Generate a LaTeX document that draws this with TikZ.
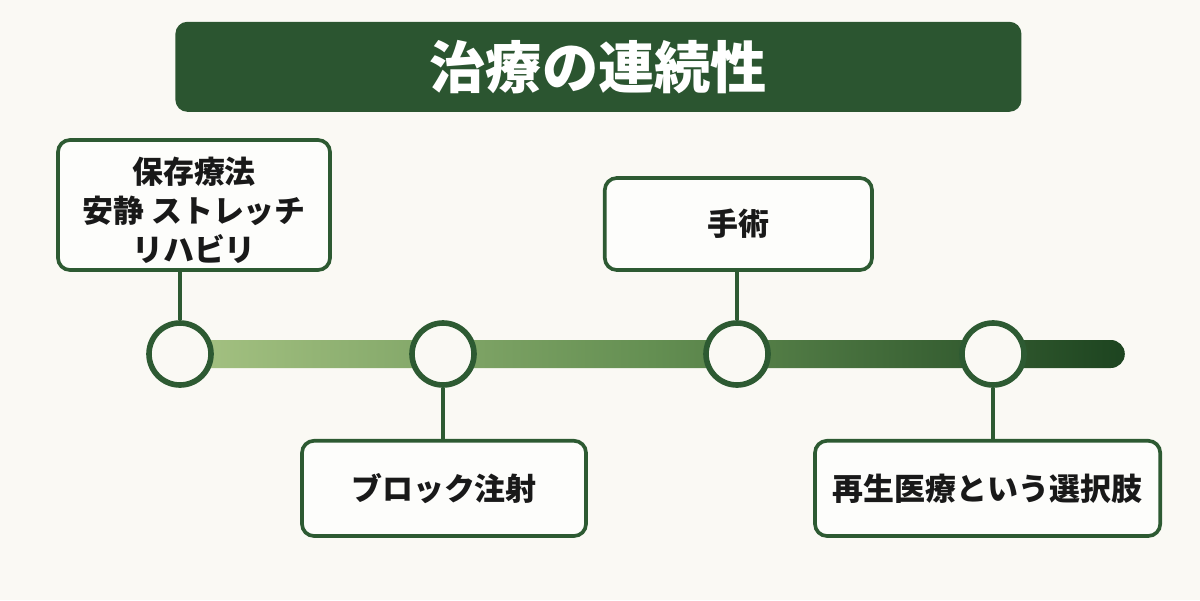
\documentclass[tikz,border=0pt]{standalone}
\usepackage{fontspec}
\usepackage{xcolor}
\usepackage{tikz}
\usetikzlibrary{positioning}
\newfontfamily\jp{Noto Sans CJK JP}
\definecolor{paperbg}{HTML}{FAF9F4}
\definecolor{titlegreen}{HTML}{2B5530}
\definecolor{framegreen}{HTML}{2D5A32}
\definecolor{barlight}{HTML}{A6C383}
\definecolor{barmid}{HTML}{648F52}
\definecolor{bardark}{HTML}{1D4420}

\begin{document}
\begin{tikzpicture}[
  stagebox/.style={draw=framegreen, line width=2.6pt, rounded corners=0.3cm,
                   fill=white!60!paperbg, align=center, inner sep=0pt,
                   text=black!90, font=\jp\bfseries\fontsize{22}{27.5}\selectfont},
  dot/.style={circle, draw=framegreen, line width=4pt, fill=paperbg,
              minimum size=1.55cm, inner sep=0pt},
  link/.style={framegreen, line width=3pt}]
\fill[paperbg] (0,0) rectangle (30,15);
\node[fill=titlegreen, rounded corners=0.3cm, minimum width=21.15cm, minimum height=2.25cm,
      text=white, font=\jp\bfseries\fontsize{40}{48}\selectfont] (title) at (14.96,13.33) {治療の連続性};
% timeline
\coordinate (barend) at (28.12,6.15);
\shade[left color=barlight, right color=bardark, middle color=barmid, rounded corners=0.35cm]
  (4.5,5.8) rectangle (barend |- 0,6.5);
\node[dot] (c1) at (4.5,6.15) {};
\node[dot] (c2) at (11.075,6.15) {};
\node[dot] (c3) at (18.425,6.15) {};
\node[dot] (c4) at (24.825,6.15) {};
% stages
\node[stagebox, minimum width=6.8cm, minimum height=3.25cm] (conserv) at (4.85,9.875)
  {\raisebox{-7pt}[\height][\depth]{\begin{tabular}{@{}c@{}}保存療法\\安静 ストレッチ\\リハビリ\end{tabular}}};
\node[stagebox, minimum width=6.68cm, minimum height=2.3cm] (surgery) at (18.46,9.4) {手術};
\node[stagebox, minimum width=7.1cm, minimum height=2.38cm] (block) at (11.1,2.79) {ブロック注射};
\node[stagebox, minimum width=8.63cm, minimum height=2.38cm] (regen) at (24.69,2.79) {再生医療という選択肢};
\draw[link] (c1) -- (c1 |- conserv.south);
\draw[link] (c2) -- (c2 |- block.north);
\draw[link] (c3) -- (c3 |- surgery.south);
\draw[link] (c4) -- (c4 |- regen.north);
\end{tikzpicture}
\end{document}
